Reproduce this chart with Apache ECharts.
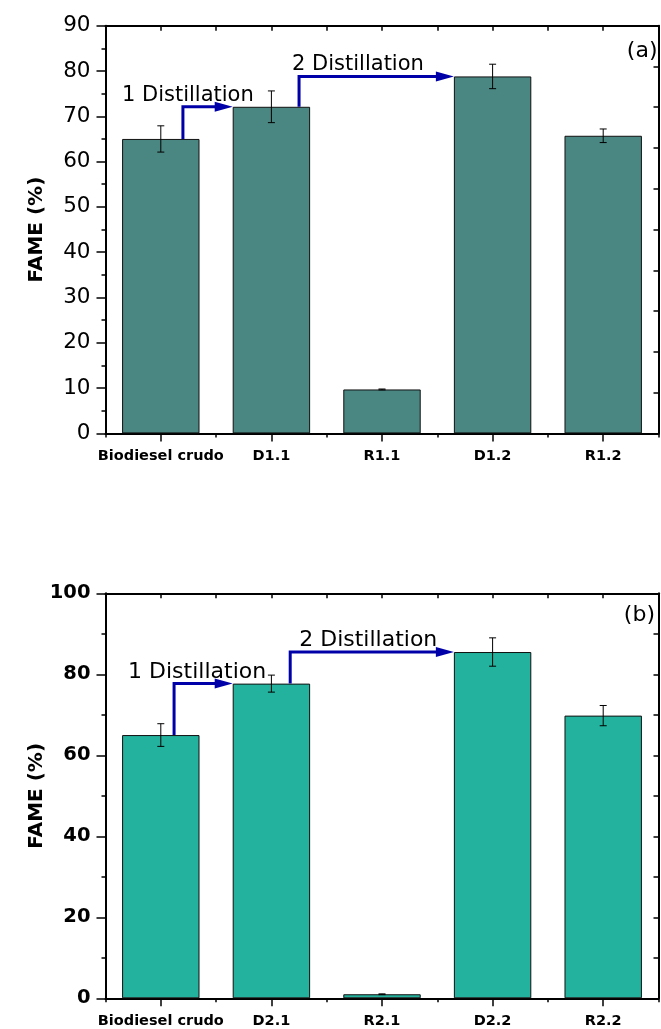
<!DOCTYPE html>
<html><head><meta charset="utf-8">
<script src="https://cdn.jsdelivr.net/npm/echarts@6/dist/echarts.min.js"></script>
<style>html,body{margin:0;padding:0;background:#fff}#c{width:661px;height:1029px}</style>
</head><body><div id="c"></div>
<script>
// ---- data ----
const categoriesA = ['Biodiesel crudo', 'D1.1', 'R1.1', 'D1.2', 'R1.2'];
const valuesA = [65.0, 72.1, 9.7, 78.8, 65.7];
const errorsA = [2.9, 3.5, 0.1, 2.7, 1.5];
const categoriesB = ['Biodiesel crudo', 'D2.1', 'R2.1', 'D2.2', 'R2.2'];
const valuesB = [65.0, 77.7, 1.0, 85.5, 69.8];
const errorsB = [2.8, 2.1, 0.1, 3.5, 2.5];
const yTicksA = [0, 10, 20, 30, 40, 50, 60, 70, 80, 90];
const yTicksB = [0, 20, 40, 60, 80, 100];
// arrows: [fromCategory, toCategory], text
const arrowLinksA = [[0, 1], [1, 3]];
const arrowLinksB = [[0, 1], [1, 3]];
const arrowTexts = ['1 Distillation', '2 Distillation'];
const panelLabels = ['(a)', '(b)'];
const yName = 'FAME (%)';

// ---- layout / styles ----
const FONT = 'DejaVu Sans';
const colorA = '#4a8782';
const colorB = '#23b29d';
const arrowColor = '#0000a8';
// per-arrow layout: fraction of band for vertical segment, text left offset (px) relative to vertical segment
const arrowLayoutA = [{frac: 0.20, dx: -61, fs: 21}, {frac: 0.25, dx: -7, fs: 21}];
const arrowLayoutB = [{frac: 0.12, dx: -46, fs: 22}, {frac: 0.17, dx: 9, fs: 22}];

const chart = echarts.init(document.getElementById('c'), null, {renderer: 'canvas'});

function errData(vals, errs) { return vals.map((v, i) => [i, v - errs[i], v + errs[i]]); }
function arrowData(links, vals) { return links.map(l => [l[0], vals[l[0]], l[1], vals[l[1]]]); }

function errRender(params, api) {
  const x = api.value(0);
  const lo = api.coord([x, api.value(1)]);
  const hi = api.coord([x, api.value(2)]);
  const w = 3.5;
  const st = {stroke: '#000', lineWidth: 1};
  return {type: 'group', children: [
    {type: 'line', shape: {x1: lo[0], y1: lo[1], x2: hi[0], y2: hi[1]}, style: st},
    {type: 'line', shape: {x1: lo[0] - w, y1: lo[1], x2: lo[0] + w, y2: lo[1]}, style: st},
    {type: 'line', shape: {x1: hi[0] - w, y1: hi[1], x2: hi[0] + w, y2: hi[1]}, style: st}
  ]};
}

function makeArrowRender(layout) {
  return function (params, api) {
    const L = layout[params.dataIndex];
    const fc = api.value(0), fv = api.value(1), tc = api.value(2), tv = api.value(3);
    const band = api.size([1, 0])[0];
    const p0 = api.coord([fc, fv]);
    const x0 = p0[0] + L.frac * band;
    const hy = api.coord([fc, tv])[1];
    const tipX = api.coord([tc, tv])[0] - 0.35 * band;
    const headL = 18, headW = 5;
    return {type: 'group', children: [
      {type: 'polyline', shape: {points: [[x0, p0[1]], [x0, hy], [tipX - headL + 2, hy]]},
        style: {stroke: arrowColor, lineWidth: 3, fill: null}},
      {type: 'polygon', shape: {points: [[tipX, hy], [tipX - headL, hy - headW], [tipX - headL, hy + headW]]},
        style: {fill: arrowColor}},
      {type: 'text', style: {text: arrowTexts[params.dataIndex], x: x0 + L.dx, y: hy - 11.5,
        font: L.fs + 'px "' + FONT + '"', fill: '#000', align: 'left', verticalAlign: 'middle'}}
    ]};
  };
}

function catAxes(gridIndex, cats) {
  return [
    {type: 'category', gridIndex, position: 'bottom', data: cats,
      axisLine: {show: true, onZero: false, lineStyle: {color: '#000', width: 2}},
      axisTick: {show: true, inside: false, length: 4, lineStyle: {color: '#000', width: 1.5}},
      axisLabel: {show: true, margin: 15, color: '#000', fontFamily: FONT, fontWeight: 'bold', fontSize: 14.5, interval: 0},
      splitLine: {show: false}},
    {type: 'category', gridIndex, position: 'bottom', data: cats,
      axisLine: {show: false, onZero: false},
      axisTick: {show: true, alignWithLabel: true, inside: false, length: 8, lineStyle: {color: '#000', width: 1.5}},
      axisLabel: {show: false}, splitLine: {show: false}},
    {type: 'value', gridIndex, position: 'top', min: -0.5, max: 4.5, interval: 0.5,
      axisLine: {show: true, onZero: false, lineStyle: {color: '#000', width: 2}},
      axisTick: {show: true, inside: true, length: 5, lineStyle: {color: '#000', width: 1.5}},
      axisLabel: {show: false}, splitLine: {show: false}}
  ];
}

function leftAxis(gridIndex, ticks, bold, fs, minorSplit) {
  return {type: 'value', gridIndex, position: 'left', min: ticks[0], max: ticks[ticks.length - 1],
    interval: ticks[1] - ticks[0],
    axisLine: {show: true, onZero: false, lineStyle: {color: '#000', width: 2}},
    axisTick: {show: true, inside: false, length: 9, lineStyle: {color: '#000', width: 1.5}},
    minorTick: {show: true, splitNumber: minorSplit, length: 4, lineStyle: {color: '#000', width: 1.5}},
    axisLabel: {show: true, margin: 15, color: '#000', fontFamily: FONT, fontWeight: bold ? 'bold' : 'normal', fontSize: fs},
    splitLine: {show: false},
    name: yName, nameLocation: 'middle', nameRotate: 90, nameGap: 59, nameMoveOverlap: false,
    nameTextStyle: {color: '#000', fontFamily: FONT, fontWeight: 'bold', fontSize: 20}};
}
function rightAxis(gridIndex) {
  return {type: 'value', gridIndex, position: 'right', min: 0, max: 100, interval: 10,
    axisLine: {show: true, onZero: false, lineStyle: {color: '#000', width: 2}},
    axisTick: {show: true, inside: true, length: 5, lineStyle: {color: '#000', width: 1.5}},
    axisLabel: {show: false}, splitLine: {show: false}};
}

const option = {
  animation: false,
  backgroundColor: '#fff',
  grid: [
    {left: 105.5, right: 2.5, top: 25.7, height: 407.7},
    {left: 105.5, right: 2.5, top: 593.3, height: 405}
  ],
  xAxis: [...catAxes(0, categoriesA), ...catAxes(1, categoriesB)],
  yAxis: [leftAxis(0, yTicksA, false, 21.5, 2), rightAxis(0), leftAxis(1, yTicksB, true, 19.5, 2), rightAxis(1)],
  series: [
    {type: 'bar', xAxisIndex: 0, yAxisIndex: 0, data: valuesA, barWidth: '70%',
      itemStyle: {color: colorA, borderColor: '#111', borderWidth: 1}},
    {type: 'custom', xAxisIndex: 0, yAxisIndex: 0, data: errData(valuesA, errorsA),
      encode: {x: 0, y: [1, 2]}, renderItem: errRender, z: 5, clip: false},
    {type: 'custom', xAxisIndex: 0, yAxisIndex: 0, data: arrowData(arrowLinksA, valuesA),
      encode: {x: [0, 2], y: [1, 3]}, renderItem: makeArrowRender(arrowLayoutA), z: 6, clip: false},
    {type: 'bar', xAxisIndex: 3, yAxisIndex: 2, data: valuesB, barWidth: '70%',
      itemStyle: {color: colorB, borderColor: '#111', borderWidth: 1}},
    {type: 'custom', xAxisIndex: 3, yAxisIndex: 2, data: errData(valuesB, errorsB),
      encode: {x: 0, y: [1, 2]}, renderItem: errRender, z: 5, clip: false},
    {type: 'custom', xAxisIndex: 3, yAxisIndex: 2, data: arrowData(arrowLinksB, valuesB),
      encode: {x: [0, 2], y: [1, 3]}, renderItem: makeArrowRender(arrowLayoutB), z: 6, clip: false}
  ],
  graphic: [
    {type: 'text', right: 3.5, top: 40, style: {text: panelLabels[0], font: '22px "' + FONT + '"', fill: '#000'}},
    {type: 'text', right: 6, top: 604, style: {text: panelLabels[1], font: '22px "' + FONT + '"', fill: '#000'}}
  ]
};
chart.setOption(option);
</script>
</body></html>
